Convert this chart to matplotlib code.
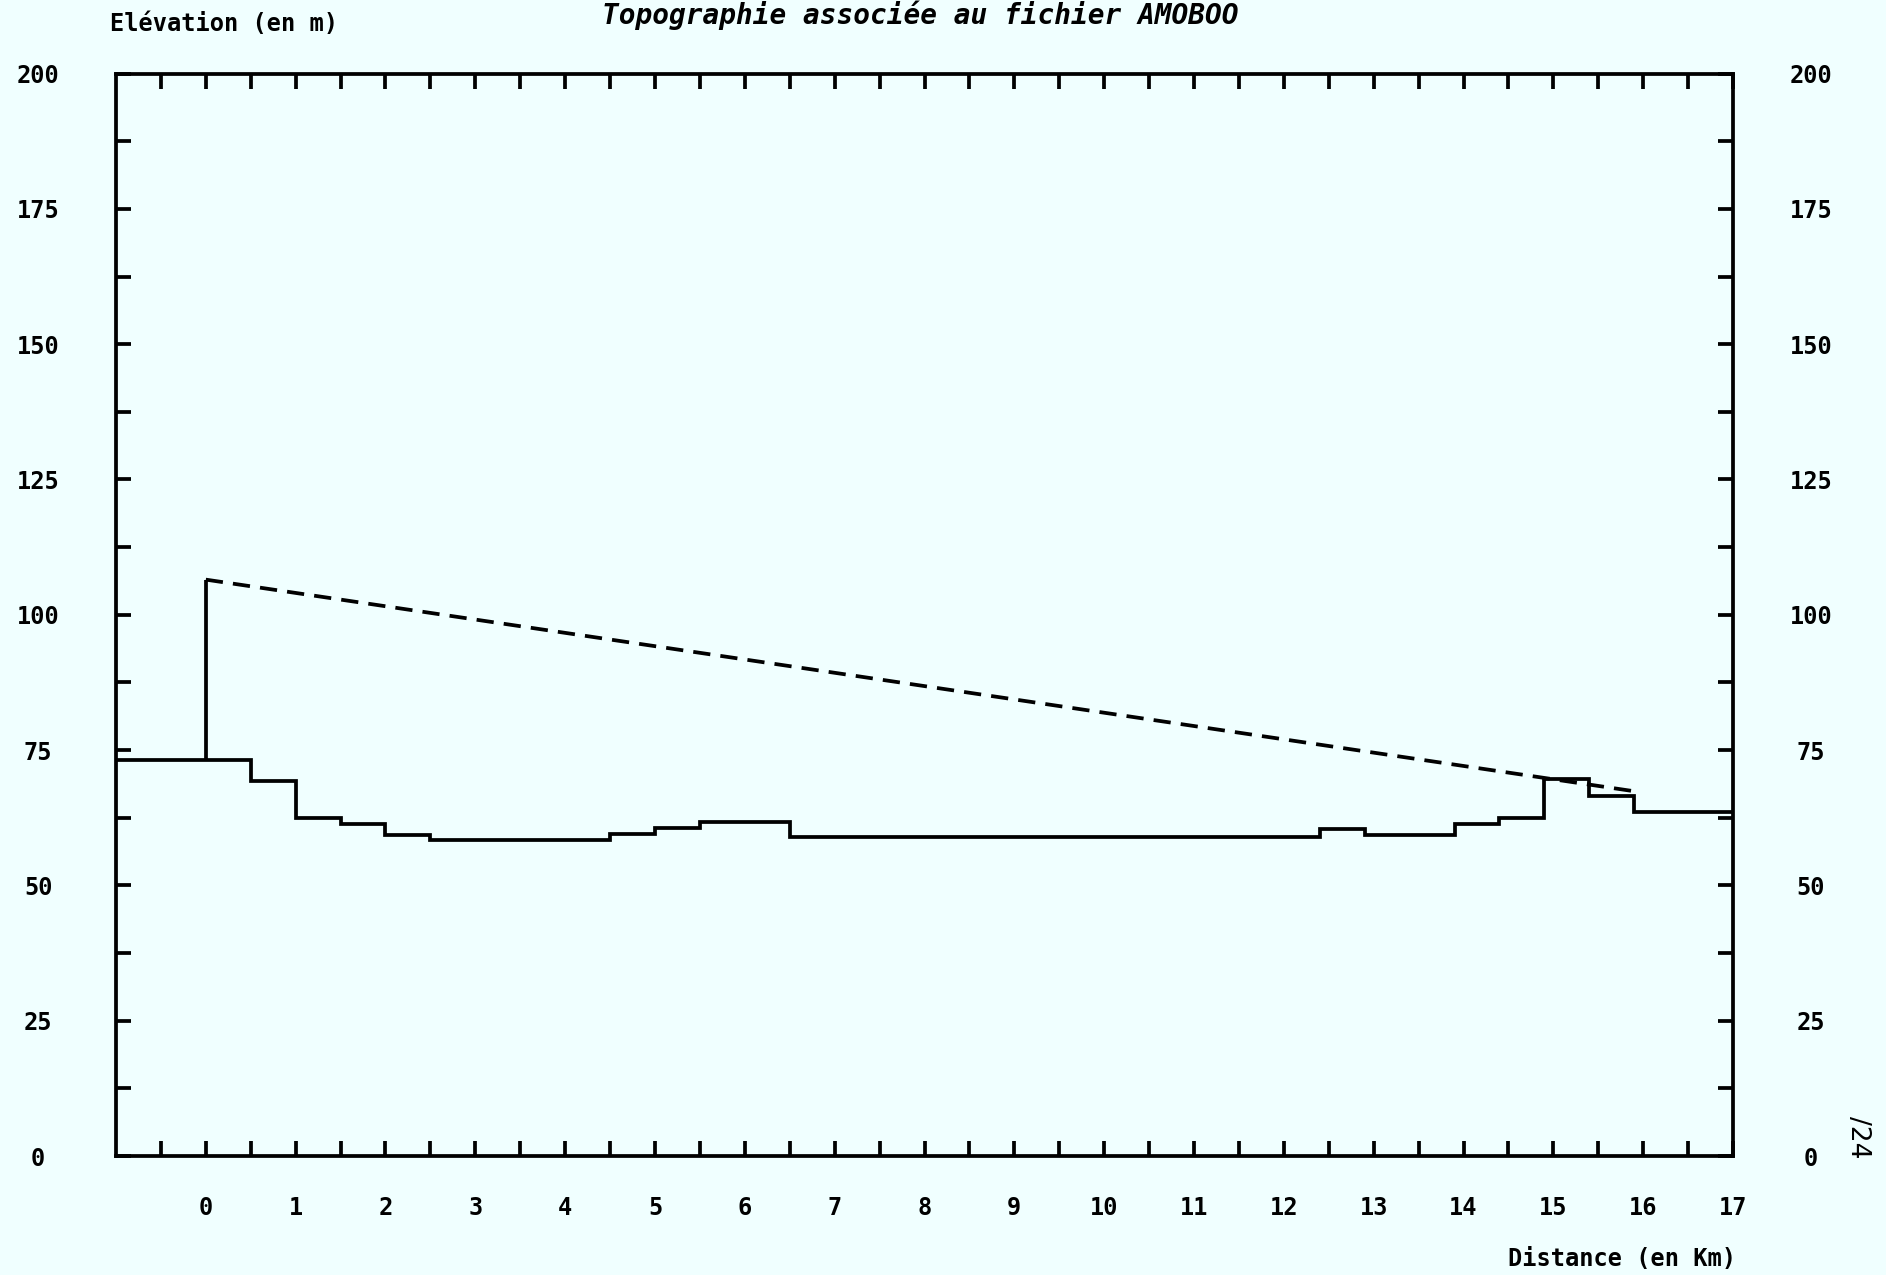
import numpy as np
import matplotlib
matplotlib.use("Agg")
import matplotlib.pyplot as plt

# profil du terrain (paliers), distance en km, altitude en m
bords = [-1.0, 0.5, 1.0, 1.5, 2.0, 2.5, 4.5, 5.0, 5.5, 6.5,
         12.4, 12.9, 13.9, 14.4, 14.9, 15.4, 15.9, 17.0]
altitudes = [73.1, 69.3, 62.4, 61.3, 59.3, 58.4, 59.5, 60.7, 61.8, 59.0,
             60.4, 59.3, 61.3, 62.4, 69.6, 66.6, 63.6]

# antenne a x=0 et rayon direct vers le recepteur
antenne_x = 0.0
antenne_haut = 106.5
rayon_x = [0.0, 15.9]
rayon_y = [106.5, 67.4]

y_ticks = [0, 25, 50, 75, 100, 125, 150, 175, 200]
x_ticks = list(range(0, 18))

fond = "#f0ffff"
police = "DejaVu Sans Mono"

fig = plt.figure(figsize=(18.86, 12.75), dpi=100, facecolor=fond)
ax = fig.add_axes([0.0615, 0.0933, 0.8574, 0.849], facecolor=fond)

lw = 2.7
ax.stairs(altitudes, bords, baseline=None, color="black", linewidth=lw)
ax.vlines(antenne_x, altitudes[0], antenne_haut, color="black", linewidth=lw)
ax.plot(rayon_x, rayon_y, color="black", linewidth=lw,
        linestyle=(0, (4.6, 2.7)))

ax.set_xlim(-1, 17)
ax.set_ylim(0, 200)

for s in ax.spines.values():
    s.set_linewidth(lw)

ax.set_xticks(x_ticks)
ax.set_xticklabels([str(v) for v in x_ticks])
ax.set_xticks(np.arange(-0.5, 17, 1.0), minor=True)
ax.set_yticks(y_ticks)
ax.set_yticklabels([str(v) for v in y_ticks])
ax.set_yticks(np.arange(12.5, 200, 25), minor=True)

ax.tick_params(axis="both", which="both", direction="in", length=11,
               width=lw, color="black")
ax.tick_params(axis="x", which="both", top=True, bottom=True, pad=29)
ax.tick_params(axis="y", which="both", left=True, right=True,
               labelleft=True, labelright=True, pad=56)

for lab in ax.get_xticklabels() + ax.get_yticklabels():
    lab.set_fontfamily(police)
    lab.set_fontweight("bold")
    lab.set_fontsize(17)
for t in ax.yaxis.get_major_ticks():
    t.label1.set_horizontalalignment("center")
    t.label2.set_horizontalalignment("center")

fig.text(0.488, 1 - 24 / 1275, "Topographie associée au fichier AMOBOO",
         ha="center", va="baseline", fontsize=20, family=police,
         weight="bold", style="italic")
fig.text(110 / 1886, 1 - 24 / 1275, "Elévation (en m)", ha="left",
         va="center", fontsize=17, family=police, weight="bold")
fig.text(1736 / 1886, 16 / 1275, "Distance (en Km)", ha="right",
         va="center", fontsize=17, family=police, weight="bold")
fig.text(1858 / 1886, 1 - 1137 / 1275, "/24", ha="center", va="center",
         rotation=-90, fontsize=19, family="DejaVu Sans")

fig.savefig("out.png", dpi=100, facecolor=fond)
